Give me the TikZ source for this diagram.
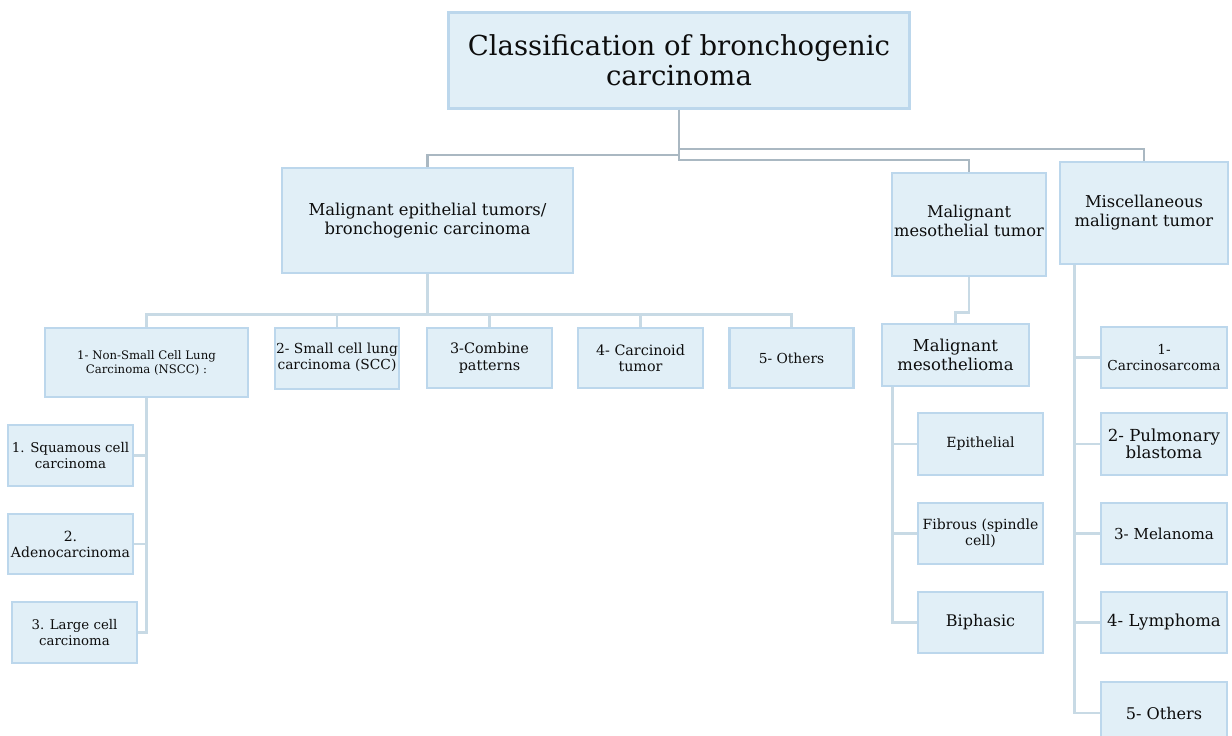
\documentclass[tikz,border=0pt]{standalone}
\usepackage{fontspec}
\setmainfont{DejaVu Serif}
\usetikzlibrary{calc}
\definecolor{boxfill}{RGB}{225,239,247}
\definecolor{boxline}{RGB}{188,215,236}
\definecolor{linedark}{RGB}{170,184,194}
\definecolor{linelight}{RGB}{200,218,229}
\tikzset{
  box/.style={draw=boxline, fill=boxfill, line width=2.6pt, align=center, inner sep=1pt, text=black!95},
  ldark/.style={draw=linedark, line width=2.6pt},
  llight/.style={draw=linelight, line width=2.6pt},
}
\newcommand{\fsz}[2]{\fontsize{#1}{#2}\selectfont}
\begin{document}
\begin{tikzpicture}[x=1pt,y=-1pt]
\useasboundingbox (0,0) rectangle (1232,736);
% boxes: center (cx,cy), width, height
\node[box, minimum width=461, minimum height=96, font=\fsz{27.5}{30}] (root) at (679,60.5) {Classification of bronchogenic\\carcinoma};
\node[box, minimum width=291, minimum height=105, font=\fsz{16.4}{19}] (epi) at (427.5,220.5) {Malignant epithelial tumors/\\bronchogenic carcinoma};
\node[box, minimum width=154, minimum height=103, font=\fsz{16.2}{19}, text depth=8pt] (meso) at (969,224.5) {Malignant\\mesothelial tumor};
\node[box, minimum width=168, minimum height=102, font=\fsz{16.3}{19}, text depth=5pt] (misc) at (1144,213) {Miscellaneous\\malignant tumor};
% epithelial children
\node[box, minimum width=203, minimum height=69, font=\fsz{11.7}{14}] (nscc) at (146.5,362.5) {1- Non-Small Cell Lung\\Carcinoma (NSCC) :};
\node[box, minimum width=124, minimum height=61, font=\fsz{13.8}{16}, text depth=5pt] (scc) at (337,358.5) {2- Small cell lung\\carcinoma (SCC)};
\node[box, minimum width=125, minimum height=60, font=\fsz{14.4}{16.5}] (comb) at (489.5,358) {3-Combine\\patterns};
\node[box, minimum width=125, minimum height=60, font=\fsz{14.3}{16.5}] (carc) at (640.5,358) {4- Carcinoid\\tumor};
\node[box, minimum width=124, minimum height=60, font=\fsz{13.8}{16}] (oth) at (791.5,358) {5- Others};
% NSCC children
\node[box, minimum width=125, minimum height=61, font=\fsz{13.4}{16}] (sq) at (70.5,455.5) {1. Squamous cell\\carcinoma};
\node[box, minimum width=125, minimum height=60, font=\fsz{14}{16}] (ad) at (70.5,544) {2.\\Adenocarcinoma};
\node[box, minimum width=125, minimum height=61, font=\fsz{13.3}{16}] (lg) at (74.5,632.5) {3. Large cell\\carcinoma};
% mesothelioma
\node[box, minimum width=147, minimum height=62, font=\fsz{16.4}{19}] (mesoma) at (955.5,355) {Malignant\\mesothelioma};
\node[box, minimum width=125, minimum height=62, font=\fsz{14}{16}] (epith) at (980.5,444) {Epithelial};
\node[box, minimum width=125, minimum height=61, font=\fsz{14}{15.5}] (fib) at (980.5,533.5) {Fibrous (spindle\\cell)};
\node[box, minimum width=125, minimum height=61, font=\fsz{16}{18}] (bip) at (980.5,622.5) {Biphasic};
% misc children
\node[box, minimum width=126, minimum height=61, font=\fsz{13.7}{15.5}] (cs) at (1164,357.5) {1-\\Carcinosarcoma};
\node[box, minimum width=126, minimum height=62, font=\fsz{16.6}{17.5}] (pb) at (1164,444) {2- Pulmonary\\blastoma};
\node[box, minimum width=126, minimum height=61, font=\fsz{15.1}{18}] (mel) at (1164,533.5) {3- Melanoma};
\node[box, minimum width=126, minimum height=61, font=\fsz{16.5}{18}] (lym) at (1164,622.5) {4- Lymphoma};
\node[box, minimum width=126, minimum height=62, font=\fsz{16.1}{18}] (oth2) at (1164,713) {5- Others};
% connectors level 1
\draw[ldark] (root.south) -- ++(0,45) -| (epi.north);
\draw[ldark] (root.south) -- ++(0,50) -| (meso.north);
\draw[ldark] (root.south) -- ++(0,39) -| (misc.north);
% connectors level 2
\foreach \c in {nscc,scc,comb,carc,oth}
  \draw[llight] (epi.south) -- ++(0,40) -| (\c.north);
\foreach \c in {sq,ad,lg}
  \draw[llight] (nscc.south) |- (\c.east);
\draw[llight] (meso.south) -- ++(0,35) -| (mesoma.north);
\foreach \c in {epith,fib,bip}
  \draw[llight] ($(mesoma.south west)+(12,0)$) |- (\c.west);
\foreach \c in {cs,pb,mel,lym,oth2}
  \draw[llight] ($(misc.south west)+(16,0)$) |- (\c.west);
\end{tikzpicture}
\end{document}
